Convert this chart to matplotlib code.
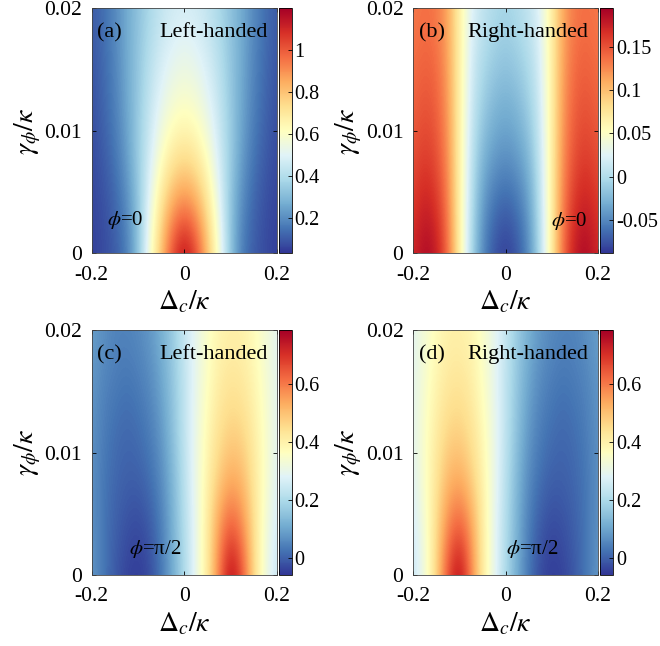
import matplotlib
matplotlib.use('Agg')
import matplotlib.pyplot as plt
import numpy as np
from matplotlib.ticker import FuncFormatter

plt.rcParams['font.family'] = ['Liberation Serif', 'DejaVu Serif']
plt.rcParams['mathtext.fontset'] = 'stix'
plt.rcParams['axes.unicode_minus'] = False

# grid
delta_c = [-0.2, -0.175, -0.15, -0.125, -0.1, -0.075, -0.05, -0.025, 0.0,
           0.025, 0.05, 0.075, 0.1, 0.125, 0.15, 0.175, 0.2]
gamma_phi = [0.0, 0.004, 0.008, 0.012, 0.016, 0.02]

# (a) left-handed, phi=0
left_phi0 = [
    [0.05, 0.07, 0.10, 0.16, 0.32, 0.58, 0.82, 1.05, 1.18, 1.05, 0.82, 0.58, 0.32, 0.16, 0.10, 0.07, 0.05],
    [0.06, 0.08, 0.12, 0.19, 0.32, 0.52, 0.72, 0.86, 0.92, 0.86, 0.72, 0.52, 0.32, 0.19, 0.12, 0.08, 0.06],
    [0.07, 0.10, 0.15, 0.23, 0.35, 0.47, 0.60, 0.69, 0.72, 0.69, 0.60, 0.47, 0.35, 0.23, 0.15, 0.10, 0.07],
    [0.08, 0.12, 0.17, 0.25, 0.34, 0.44, 0.52, 0.58, 0.60, 0.58, 0.52, 0.44, 0.34, 0.25, 0.17, 0.12, 0.08],
    [0.09, 0.13, 0.18, 0.26, 0.33, 0.41, 0.47, 0.51, 0.53, 0.51, 0.47, 0.41, 0.33, 0.26, 0.18, 0.13, 0.09],
    [0.10, 0.14, 0.19, 0.26, 0.32, 0.38, 0.43, 0.46, 0.47, 0.46, 0.43, 0.38, 0.32, 0.26, 0.19, 0.14, 0.10],
]

# (b) right-handed, phi=0
right_phi0 = [
    [0.170, 0.190, 0.180, 0.140, 0.070, 0.000, -0.050, -0.075, -0.085, -0.075, -0.050, 0.000, 0.070, 0.140, 0.180, 0.190, 0.170],
    [0.160, 0.175, 0.165, 0.132, 0.068, 0.005, -0.040, -0.060, -0.068, -0.060, -0.040, 0.005, 0.068, 0.132, 0.165, 0.175, 0.160],
    [0.150, 0.160, 0.152, 0.125, 0.068, 0.010, -0.025, -0.040, -0.045, -0.040, -0.025, 0.010, 0.068, 0.125, 0.152, 0.160, 0.150],
    [0.142, 0.150, 0.145, 0.120, 0.068, 0.015, -0.010, -0.025, -0.030, -0.025, -0.010, 0.015, 0.068, 0.120, 0.145, 0.150, 0.142],
    [0.136, 0.142, 0.138, 0.116, 0.068, 0.020, 0.000, -0.010, -0.015, -0.010, 0.000, 0.020, 0.068, 0.116, 0.138, 0.142, 0.136],
    [0.132, 0.136, 0.133, 0.113, 0.068, 0.025, 0.010, 0.000, -0.005, 0.000, 0.010, 0.025, 0.068, 0.113, 0.133, 0.136, 0.132],
]

# (c) left-handed, phi=pi/2
left_phi90 = [
    [0.08, 0.03, -0.01, -0.04, -0.05, -0.03, 0.03, 0.11, 0.20, 0.30, 0.42, 0.60, 0.78, 0.66, 0.46, 0.32, 0.24],
    [0.07, 0.03, 0.00, -0.02, -0.03, -0.01, 0.04, 0.12, 0.21, 0.30, 0.42, 0.56, 0.64, 0.58, 0.45, 0.33, 0.26],
    [0.07, 0.03, 0.01, 0.00, 0.00, 0.02, 0.06, 0.13, 0.22, 0.31, 0.40, 0.48, 0.53, 0.51, 0.43, 0.35, 0.28],
    [0.07, 0.04, 0.02, 0.01, 0.02, 0.04, 0.08, 0.15, 0.23, 0.31, 0.38, 0.44, 0.47, 0.46, 0.41, 0.35, 0.29],
    [0.08, 0.05, 0.04, 0.03, 0.04, 0.06, 0.10, 0.16, 0.23, 0.30, 0.36, 0.41, 0.43, 0.42, 0.39, 0.34, 0.29],
    [0.09, 0.07, 0.05, 0.05, 0.06, 0.08, 0.12, 0.17, 0.24, 0.30, 0.35, 0.39, 0.40, 0.40, 0.37, 0.33, 0.29],
]

# (d) right-handed, phi=pi/2
right_phi90 = [
    [0.24, 0.32, 0.46, 0.66, 0.78, 0.60, 0.42, 0.30, 0.20, 0.11, 0.03, -0.03, -0.05, -0.04, -0.01, 0.03, 0.08],
    [0.26, 0.33, 0.45, 0.58, 0.64, 0.56, 0.42, 0.30, 0.21, 0.12, 0.04, -0.01, -0.03, -0.02, 0.00, 0.03, 0.07],
    [0.28, 0.35, 0.43, 0.51, 0.53, 0.48, 0.40, 0.31, 0.22, 0.13, 0.06, 0.02, 0.00, 0.00, 0.01, 0.03, 0.07],
    [0.29, 0.35, 0.41, 0.46, 0.47, 0.44, 0.38, 0.31, 0.23, 0.15, 0.08, 0.04, 0.02, 0.01, 0.02, 0.04, 0.07],
    [0.29, 0.34, 0.39, 0.42, 0.43, 0.41, 0.36, 0.30, 0.23, 0.16, 0.10, 0.06, 0.04, 0.03, 0.04, 0.05, 0.08],
    [0.29, 0.33, 0.37, 0.40, 0.40, 0.39, 0.35, 0.30, 0.24, 0.17, 0.12, 0.08, 0.06, 0.05, 0.05, 0.07, 0.09],
]

panels = [
    (left_phi0, '(a)', 'Left-handed', r'$\phi$=0', (0.03, 1.2), [0.2, 0.4, 0.6, 0.8, 1.0], (0.085, 0.135)),
    (right_phi0, '(b)', 'Right-handed', r'$\phi$=0', (-0.088, 0.194), [-0.05, 0, 0.05, 0.1, 0.15], (0.745, 0.13)),
    (left_phi90, '(c)', 'Left-handed', r'$\phi$=π/2', (-0.058, 0.785), [0, 0.2, 0.4, 0.6], (0.2, 0.105)),
    (right_phi90, '(d)', 'Right-handed', r'$\phi$=π/2', (-0.058, 0.785), [0, 0.2, 0.4, 0.6], (0.5, 0.105)),
]

ax_pos = [(0.139, 0.608), (0.626, 0.608), (0.139, 0.110), (0.626, 0.110)]
ax_w, ax_h = 0.280, 0.379
cb_w = 0.02

fig = plt.figure(figsize=(6.6, 6.46), dpi=100)

dx = (delta_c[1] - delta_c[0]) / 2
dy = (gamma_phi[1] - gamma_phi[0]) / 2
extent = [delta_c[0] - dx, delta_c[-1] + dx, gamma_phi[0] - dy, gamma_phi[-1] + dy]
fmt = FuncFormatter(lambda v, p: '%g' % v)

for (z, tag, hand, phitxt, (vmin, vmax), cticks, (tx, ty)), (l, b) in zip(panels, ax_pos):
    ax = fig.add_axes([l, b, ax_w, ax_h])
    im = ax.imshow(np.array(z), origin='lower', extent=extent, aspect='auto',
                   cmap='RdYlBu_r', vmin=vmin, vmax=vmax,
                   interpolation='bicubic', interpolation_stage='data')
    ax.set_xlim(-0.2, 0.2)
    ax.set_ylim(0, 0.02)
    ax.set_xticks([-0.2, 0, 0.2])
    ax.set_yticks([0, 0.01, 0.02])
    ax.xaxis.set_major_formatter(fmt)
    ax.yaxis.set_major_formatter(fmt)
    ax.tick_params(direction='in', top=True, right=True, labelsize=15.5, length=3, width=0.6)
    ax.tick_params(axis='x', pad=9)
    ax.tick_params(axis='y', pad=7)
    ax.set_xlabel(r'$\Delta_c/\kappa$', fontsize=20, labelpad=3)
    ax.set_ylabel(r'$\gamma_\phi/\kappa$', fontsize=20, labelpad=1)
    for s in ax.spines.values():
        s.set_linewidth(0.6)
        s.set_color('#444444')

    ax.text(0.03, 0.9, tag, transform=ax.transAxes, fontsize=16, va='center', ha='left')
    ax.text(0.95, 0.9, hand, transform=ax.transAxes, fontsize=16, va='center', ha='right')
    ax.text(tx, ty, phitxt, transform=ax.transAxes, fontsize=15, va='center', ha='left')

    cax = fig.add_axes([l + ax_w + 0.003, b, cb_w, ax_h])
    cb = fig.colorbar(im, cax=cax, ticks=cticks)
    cb.ax.yaxis.set_major_formatter(fmt)
    cb.ax.tick_params(direction='in', labelsize=14.5, length=3, width=0.6, pad=2)
    cb.outline.set_linewidth(0.6)

fig.savefig('out.png', dpi=100)
